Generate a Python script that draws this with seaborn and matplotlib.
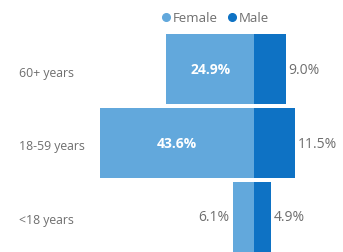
import matplotlib
matplotlib.use("Agg")
import matplotlib.pyplot as plt
import seaborn as sns
import pandas as pd

# Chart data
age_groups = ['60+ years', '18-59 years', '<18 years']
female_pct = [24.9, 43.6, 6.1]
male_pct = [9.0, 11.5, 4.9]

FEMALE_COLOR = '#62A8DC'
MALE_COLOR = '#0E72C4'
TEXT_GRAY = '#6E6E6E'

sns.set_theme(style="white")
plt.rcParams['font.family'] = ['Open Sans', 'DejaVu Sans']

df = pd.DataFrame({'Age': age_groups, 'Female': female_pct, 'Male': male_pct})
df['FemaleNeg'] = -df['Female']

fig = plt.figure(figsize=(3.43, 2.53), dpi=100)
ax = fig.add_axes([0, 0, 1, 1])

sns.barplot(data=df, y='Age', x='FemaleNeg', color=FEMALE_COLOR, width=0.946,
            saturation=1, linewidth=0, ax=ax, order=age_groups)
sns.barplot(data=df, y='Age', x='Male', color=MALE_COLOR, width=0.946,
            saturation=1, linewidth=0, ax=ax, order=age_groups)

ax.set_xlim(-72, 25.2)
ax.set_ylim(2.473, -0.946)
ax.axis('off')

# Value labels: inside (white) for wide bars, outside otherwise
for i, (f, m) in enumerate(zip(female_pct, male_pct)):
    if f > 15:
        ax.text(-f / 2, i, f'{f:.1f}%', ha='center', va='center', color='white',
                fontsize=10, fontweight='bold')
    else:
        ax.text(-f - 0.8, i, f'{f:.1f}%', ha='right', va='center', color=TEXT_GRAY, fontsize=10)
    if m > 15:
        ax.text(m / 2, i, f'{m:.1f}%', ha='center', va='center', color='white',
                fontsize=10, fontweight='bold')
    else:
        ax.text(m + 0.8, i, f'{m:.1f}%', ha='left', va='center', color=TEXT_GRAY, fontsize=10)

# Category labels on the left
for i, name in enumerate(age_groups):
    fig.text(19 / 343, 1 - (70 + 74 * i + 3) / 253, name, ha='left', va='center',
             color=TEXT_GRAY, fontsize=8.8)

# Legend at top
handles = [plt.Line2D([], [], marker='o', linestyle='', color=FEMALE_COLOR, markersize=5.5),
           plt.Line2D([], [], marker='o', linestyle='', color=MALE_COLOR, markersize=5.5)]
leg = fig.legend(handles, ['Female', 'Male'], loc='center', bbox_to_anchor=(214 / 343, 1 - 19 / 253),
                 ncol=2, frameon=False, fontsize=9.5, handletextpad=0.0, columnspacing=0.6,
                 handlelength=1.0, labelcolor=TEXT_GRAY)

fig.savefig('out.png', dpi=100, facecolor='white')
